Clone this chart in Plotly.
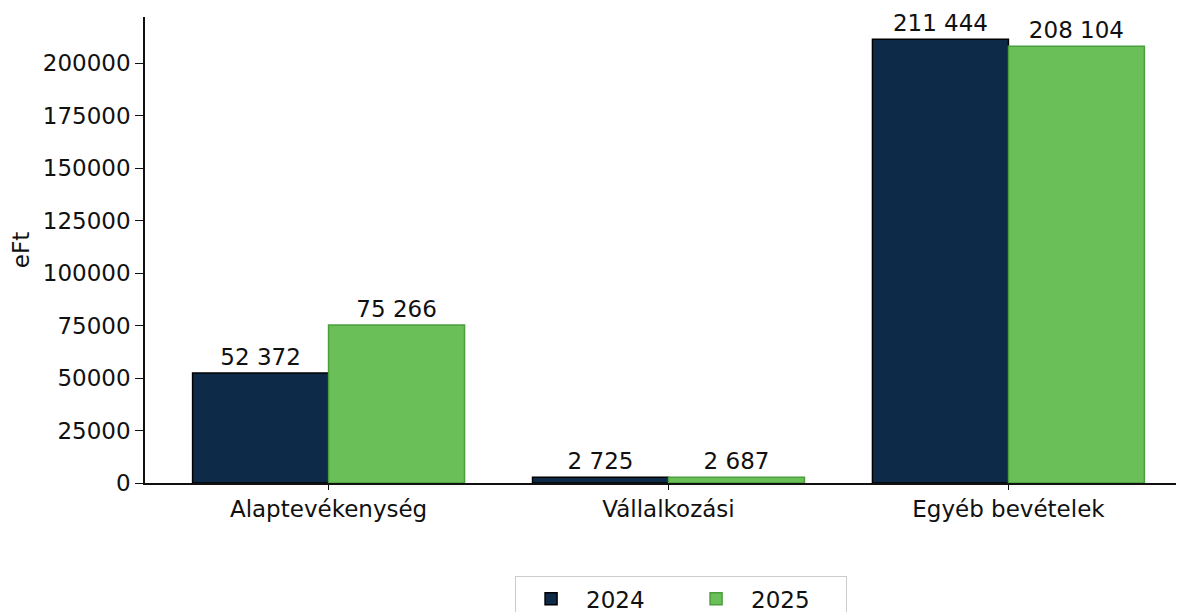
import plotly.graph_objects as go

categories = ["Alaptevékenység", "Vállalkozási", "Egyéb bevételek"]
values_2024 = [52372, 2725, 211444]
values_2025 = [75266, 2687, 208104]
series_names = ["2024", "2025"]
y_ticks = [0, 25000, 50000, 75000, 100000, 125000, 150000, 175000, 200000]

FONT = "DejaVu Sans"
FS = 23
fig = go.Figure()
fig.add_trace(go.Bar(
    x=categories, y=values_2024, name=series_names[0],
    marker=dict(color="#0d2a48", line=dict(color="#000000", width=1.5)),
    texttemplate="%{y:,}", textposition="outside", cliponaxis=False,
    textfont=dict(color="#111111", size=FS, family=FONT),
))
fig.add_trace(go.Bar(
    x=categories, y=values_2025, name=series_names[1],
    marker=dict(color="#6abf59", line=dict(color="#4b9e3c", width=1.5)),
    texttemplate="%{y:,}", textposition="outside", cliponaxis=False,
    textfont=dict(color="#111111", size=FS, family=FONT),
))

ymax = max(max(values_2024), max(values_2025)) * 1.05
fig.update_layout(
    width=1184, height=612,
    margin=dict(l=137, r=0, t=9, b=137, autoexpand=False),
    plot_bgcolor="white", paper_bgcolor="white",
    separators=". ",
    barmode="group", bargap=0.2, bargroupgap=0,
    font=dict(family=FONT, size=FS, color="#111111"),
    showlegend=True,
    legend=dict(
        orientation="h", x=0.512, xanchor="center", y=-0.2, yanchor="top",
        bordercolor="#cccccc", borderwidth=1,
        font=dict(size=FS, family=FONT), itemwidth=60, entrywidth=90,
    ),
)
fig.update_xaxes(
    range=[-0.54, 2.54], showline=True, linecolor="#111111", linewidth=1.5,
    ticks="outside", ticklen=5, tickcolor="#111111", showgrid=False,
    tickfont=dict(size=FS, family=FONT), automargin=False,
)
fig.update_yaxes(
    range=[0, ymax], showline=True, linecolor="#111111", linewidth=1.5,
    ticks="outside", ticklen=8, tickcolor="#111111", showgrid=False,
    tickvals=y_ticks, tickformat="d", zeroline=False, automargin=False,
    tickfont=dict(size=FS, family=FONT),
    title=dict(text="eFt", font=dict(size=FS, family=FONT), standoff=20),
)

fig.write_html("out.html")
